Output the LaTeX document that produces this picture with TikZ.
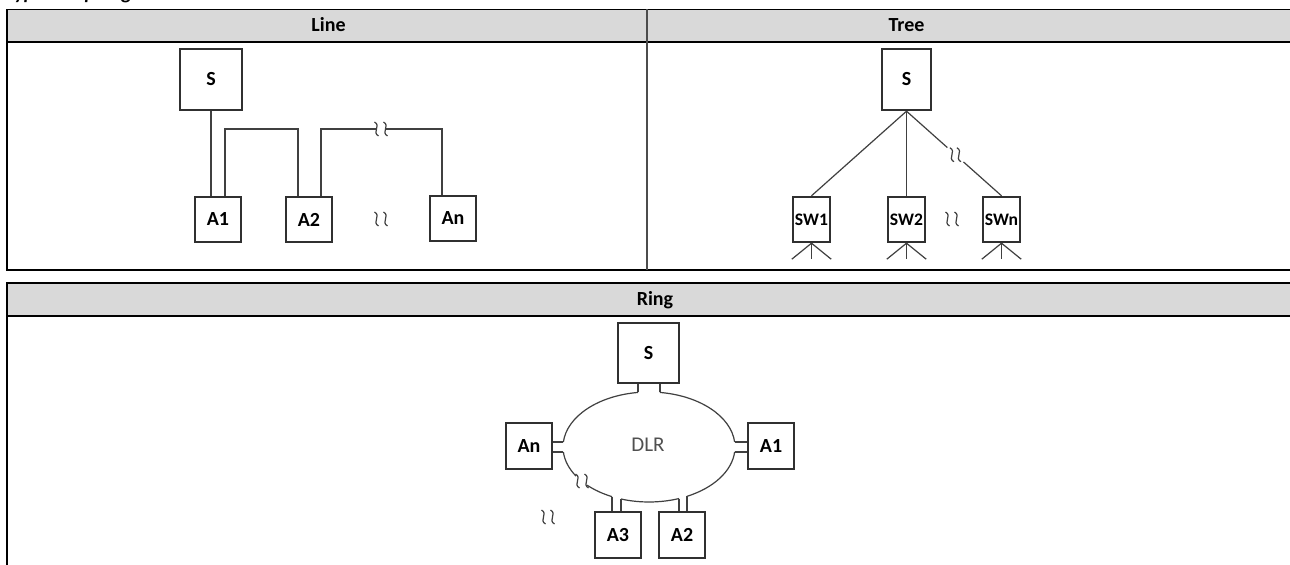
\documentclass[tikz,border=0pt]{standalone}
\usepackage{fontspec}
\setmainfont{Carlito}
\usetikzlibrary{calc}
\definecolor{hdr}{HTML}{D9D9D9}
\definecolor{boxc}{HTML}{303030}
\definecolor{linec}{HTML}{404040}
\definecolor{dlrc}{HTML}{505050}
\tikzset{
  dev/.style={draw=boxc, line width=1.2pt, inner sep=0pt, fill=white,
    font=\fontsize{10}{12}\selectfont\bfseries},
  bigbox/.style={dev, minimum width=31pt, minimum height=30.5pt},
  abox/.style={dev, minimum width=23pt, minimum height=22.5pt},
  swbox/.style={dev, minimum width=18.5pt, minimum height=22.5pt,
    font=\fontsize{8.8}{10}\selectfont\bfseries},
  conn/.style={draw=linec, line width=0.6pt},
  tbl/.style={draw=black, line width=0.8pt},
  hdrtxt/.style={inner sep=0pt, anchor=base, font=\fontsize{10}{12}\selectfont\bfseries},
  pics/brk/.style={code={
    \draw[conn] (-6.5,-7) .. controls (0.5,-3) and (-9.5,3) .. (-2.5,7);
    \draw[conn] (2.5,-7) .. controls (9.5,-3) and (-0.5,3) .. (6.5,7);
  }},
  pics/brkn/.style={code={
    \draw[conn] (-5.5,-7) .. controls (1.5,-3) and (-8.5,3) .. (-1.5,7);
    \draw[conn] (1.5,-7) .. controls (8.5,-3) and (-1.5,3) .. (5.5,7);
  }},
}
\begin{document}
\begin{tikzpicture}[x=0.5pt,y=-0.5pt]
\useasboundingbox (0,0) rectangle (1290,565);
\clip (0,0) rectangle (1290,565);
\fill[white] (0,0) rectangle (1290,565);

% title (cut at top, as in the reference)
\node[anchor=base west, inner sep=0pt, font=\fontsize{10}{12}\selectfont\bfseries\itshape] (title) at (5,0) {Typical topologies};

% ---- top table
\fill[hdr] (7,9.5) rectangle (1300,42);
\draw[tbl] (7,9.5) rectangle (1300,270);
\draw[tbl] (7,42) -- (1300,42);
\draw[draw=black!70, line width=0.9pt] (647,9.5) -- (647,270);
\node[hdrtxt] (hLine) at (328.5,31.5) {Line};
\node[hdrtxt] (hTree) at (906.5,31.5) {Tree};

% ---- ring table
\fill[hdr] (7,283) rectangle (1300,316);
\draw[tbl] (7,283) rectangle (1300,575);
\draw[tbl] (7,316) -- (1300,316);
\node[hdrtxt] (hRing) at (655,305.5) {Ring};

% ---- Line topology
\node[bigbox] (lS) at (211,79.5) {S};
\node[abox] (lA1) at (218,219.5) {A1};
\node[abox] (lA2) at (309,219.5) {A2};
\node[abox] (lAn) at (453,218.5) {An};
\coordinate (ly) at (0,129);
\coordinate (l1a) at ($(lA1.north)+(7,0)$);
\coordinate (l1b) at ($(lA2.north)+(-11,0)$);
\coordinate (l2a) at ($(lA2.north)+(12,0)$);
\coordinate (l2b) at ($(lAn.north)+(-11,0)$);
\coordinate (lbrk) at (381,129);
\draw[conn] (lS.south) -- (lS.south |- lA1.north);
\draw[conn] (l1a) -- (l1a |- ly) -| (l1b);
\draw[conn] (l2a) -- (l2a |- ly) -- ($(lbrk)+(-4.5,0)$);
\draw[conn] ($(lbrk)+(4.5,0)$) -| (l2b);
\pic at (lbrk) {brk};
\pic at (381,219) {brk};

% ---- Tree topology
\node[bigbox, minimum width=24.5pt] (tS) at (906.5,79.5) {S};
\node[swbox] (tSW1) at (811.5,219.5) {SW1};
\node[swbox] (tSW2) at (906.5,219.5) {SW2};
\node[swbox] (tSWn) at (1001.5,219.5) {SWn};
\draw[conn] (tS.south) -- (tSW1.north);
\draw[conn] (tS.south) -- (tSW2.north);
\draw[conn] (tS.south) -- ($(tS.south)!0.43!(tSWn.north)$);
\draw[conn] ($(tS.south)!0.60!(tSWn.north)$) -- (tSWn.north);
\pic at ($(tS.south)!0.515!(tSWn.north)$) {brkn};
\foreach \n in {tSW1,tSW2,tSWn} {
  \draw[conn] (\n.south) -- ($(\n.south west)+(0,16)$);
  \draw[conn] (\n.south) -- ($(\n.south)+(0,16)$);
  \draw[conn] (\n.south) -- ($(\n.south east)+(0,16)$);
}
\pic at (952,219) {brk};

% ---- Ring topology
\coordinate (E) at (649,447);
\node[bigbox, minimum width=30.5pt, minimum height=30pt] (rS) at (648.5,353) {S};
\node[abox, minimum height=23pt] (rAn) at (529,446) {An};
\node[abox, minimum height=23pt] (rA1) at (771,446) {A1};
\node[abox, minimum height=23pt] (rA3) at (618,535) {A3};
\node[abox, minimum height=23pt] (rA2) at (682,535) {A2};
\node[inner sep=0pt, text=dlrc, font=\fontsize{10.5}{12}\selectfont] (dlr) at (648,445) {DLR};

\foreach \a/\b in {5.2/63.8, 69.6/109, 115.5/136, 148/174.8, 185.2/262.7, 277.3/354.8} {
  \draw[conn] (E) ++(\a:86 and 55) arc[start angle=\a, end angle=\b, x radius=86, y radius=55];
}
\path (E) ++(262.7:86 and 55) coordinate (rs1);
\path (E) ++(277.3:86 and 55) coordinate (rs2);
\path (E) ++(354.8:86 and 55) coordinate (ra1a);
\path (E) ++(5.2:86 and 55) coordinate (ra1b);
\path (E) ++(174.8:86 and 55) coordinate (rana);
\path (E) ++(185.2:86 and 55) coordinate (ranb);
\path (E) ++(109:86 and 55) coordinate (ra3a);
\path (E) ++(115.5:86 and 55) coordinate (ra3b);
\path (E) ++(63.8:86 and 55) coordinate (ra2a);
\path (E) ++(69.6:86 and 55) coordinate (ra2b);
\draw[conn] (rs1) -- (rs1 |- rS.south);
\draw[conn] (rs2) -- (rs2 |- rS.south);
\draw[conn] (ra1a) -- (ra1a -| rA1.west);
\draw[conn] (ra1b) -- (ra1b -| rA1.west);
\draw[conn] (rana) -- (rana -| rAn.east);
\draw[conn] (ranb) -- (ranb -| rAn.east);
\draw[conn] (ra3a) -- (ra3a |- rA3.north);
\draw[conn] (ra3b) -- (ra3b |- rA3.north);
\draw[conn] (ra2a) -- (ra2a |- rA2.north);
\draw[conn] (ra2b) -- (ra2b |- rA2.north);
\pic at (582,481) {brk};
\pic at (548,517) {brk};
\end{tikzpicture}
\end{document}
